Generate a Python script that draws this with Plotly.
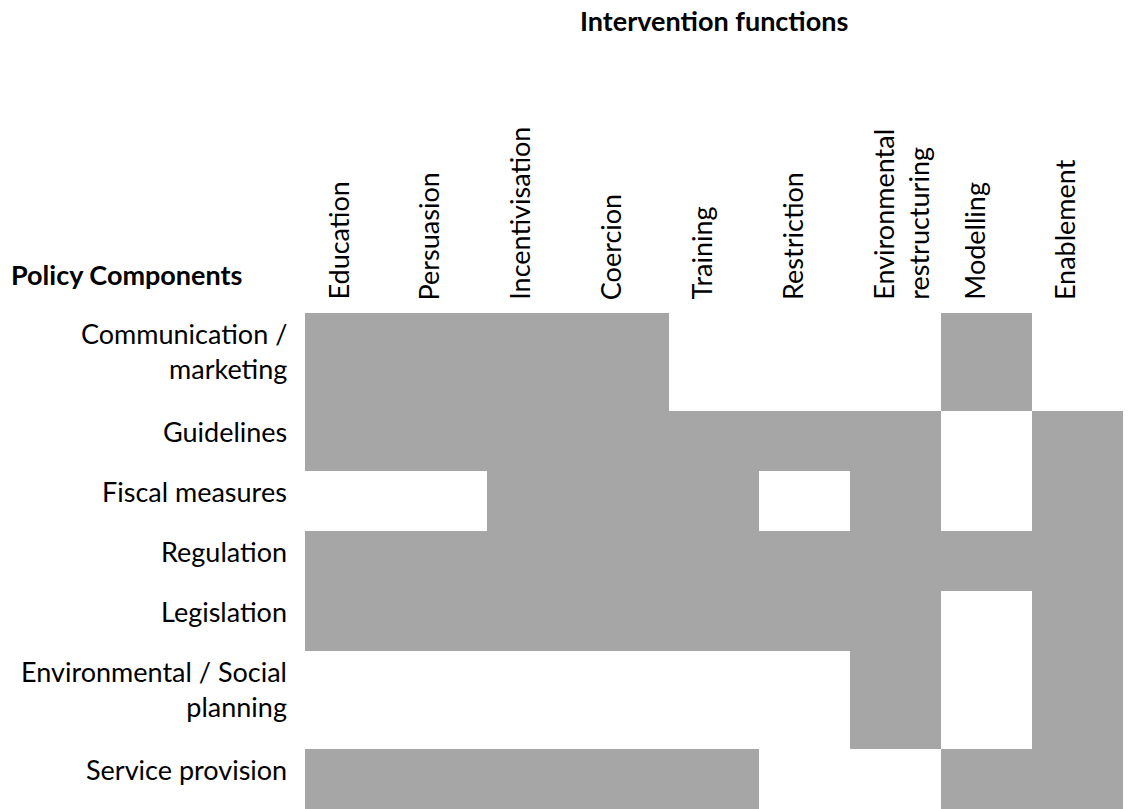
import plotly.graph_objects as go

functions = ["Education", "Persuasion", "Incentivisation", "Coercion", "Training",
             "Restriction", "Environmental<br>restructuring", "Modelling", "Enablement"]
components = ["Communication /<br>marketing", "Guidelines", "Fiscal measures", "Regulation",
              "Legislation", "Environmental / Social<br>planning", "Service provision"]
# 1 = policy component can deliver the intervention function (grey cell)
links = [
    [1, 1, 1, 1, 0, 0, 0, 1, 0],
    [1, 1, 1, 1, 1, 1, 1, 0, 1],
    [0, 0, 1, 1, 1, 0, 1, 0, 1],
    [1, 1, 1, 1, 1, 1, 1, 1, 1],
    [1, 1, 1, 1, 1, 1, 1, 0, 1],
    [0, 0, 0, 0, 0, 0, 1, 0, 1],
    [1, 1, 1, 1, 1, 0, 0, 1, 1],
]
col_title = "Intervention functions"
row_title = "Policy Components"

FONT = "Lato"
FS = 27
GREY = "#a6a6a6"

# row heights grow with the number of label lines
row_h = [1 + 0.62 * (lbl.count("<br>")) for lbl in components]
y_edges = [0.0]
for h in row_h:
    y_edges.append(y_edges[-1] + h)
x_edges = list(range(len(functions) + 1))

fig = go.Figure(go.Heatmap(
    z=links, x=x_edges, y=y_edges,
    colorscale=[[0, "white"], [1, GREY]], zmin=0, zmax=1,
    showscale=False, hoverinfo="skip",
))

ann = []
for i, f in enumerate(functions):
    ann.append(dict(x=i, xref="x", y=1, yref="paper", text=f, textangle=-90,
                    xanchor="left", yanchor="bottom", align="left", xshift=14, yshift=11,
                    showarrow=False, font=dict(family=FONT, size=FS, color="black")))
for j, c in enumerate(components):
    ann.append(dict(x=0, xref="paper", y=y_edges[j], yref="y", text=c,
                    xanchor="right", yanchor="top", align="right", xshift=-16, yshift=-2,
                    showarrow=False, font=dict(family=FONT, size=FS, color="black")))
ann.append(dict(x=0.5, xref="paper", y=1, yref="paper", text="<b>%s</b>" % col_title,
                xanchor="center", yanchor="top", yshift=311, showarrow=False,
                font=dict(family=FONT, size=FS, color="black")))
ann.append(dict(x=0, xref="paper", y=1, yref="paper", text="<b>%s</b>" % row_title,
                xanchor="left", yanchor="top", xshift=-296, yshift=57, showarrow=False,
                font=dict(family=FONT, size=FS, color="black")))

fig.update_layout(
    width=1130, height=809,
    margin=dict(l=305, r=7, t=313, b=0),
    paper_bgcolor="white", plot_bgcolor="white",
    xaxis=dict(range=[0, len(functions)], visible=False, fixedrange=True),
    yaxis=dict(range=[y_edges[-1], 0], visible=False, fixedrange=True),
    annotations=ann,
    showlegend=False,
)
fig.write_html("out.html", config={"displayModeBar": False},
               post_script="document.body.style.margin='0px';")
